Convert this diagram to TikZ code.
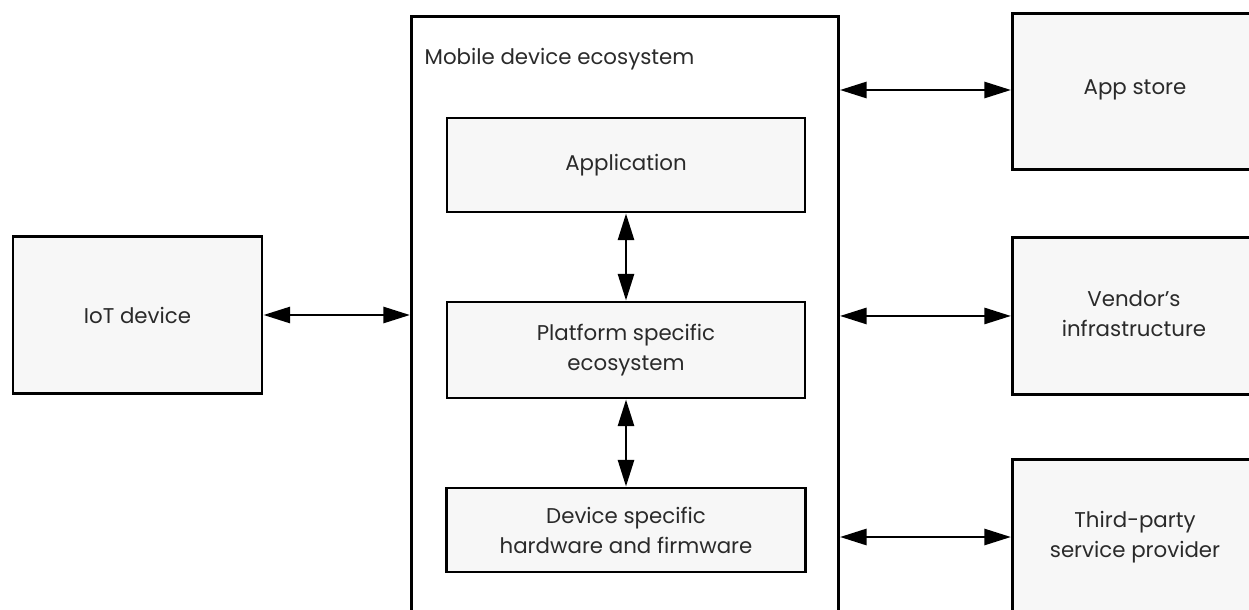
\documentclass[tikz,border=0pt]{standalone}
\usepackage{fontspec}
\setmainfont{Poppins}
\usetikzlibrary{arrows.meta}
\definecolor{boxfill}{HTML}{F7F7F7}
\definecolor{txt}{HTML}{2A2A2A}
\tikzset{
  lbl/.style={text=txt, align=center, font=\fontsize{16}{22.5}\selectfont},
  blk/.style={draw=black, line width=2.2pt, fill=boxfill, lbl},
  dbl/.style={{Triangle[length=20pt,width=12pt]}-{Triangle[length=20pt,width=12pt]}, line width=2.1pt},
}
\begin{document}
\begin{tikzpicture}[x=0.75pt,y=-0.75pt]
\useasboundingbox (0,0) rectangle (1249,610);
\clip (0,0) rectangle (1249,610);
\fill[white] (0,0) rectangle (1249,610);
% outer mobile box
\node[blk, fill=white, minimum width=427*0.75pt, minimum height=640*0.75pt, anchor=north west] (mob) at (410,15) {};
\node[lbl, anchor=west] (mobl) at (420,59) {Mobile device ecosystem};
% inner boxes
\node[blk, minimum width=358*0.75pt, minimum height=94*0.75pt] (app) at (626,165) {Application};
\node[blk, minimum width=358*0.75pt, minimum height=96*0.75pt] (plat) at (626,350) {Platform specific\\ecosystem};
\node[blk, minimum width=359*0.75pt, minimum height=84*0.75pt] (dev) at (626,530) {Device specific\\hardware and firmware};
% left
\node[blk, minimum width=249*0.75pt, minimum height=157*0.75pt] (iot) at (137.5,315) {IoT device};
% right
\node[blk, minimum width=250*0.75pt, minimum height=156*0.75pt, anchor=north west] (store) at (1011,12) {};
\node[lbl] (storel) at (1135,90) {App store};
\node[blk, minimum width=250*0.75pt, minimum height=157*0.75pt, anchor=north west] (vend) at (1011,236) {};
\node[lbl] (vendl) at (1134,314) {Vendor’s\\infrastructure};
\node[blk, minimum width=250*0.75pt, minimum height=200*0.75pt, anchor=north west] (third) at (1011,458) {};
\node[lbl] (thirdl) at (1135,537) {Third-party\\service provider};
% connectors
\coordinate (ys) at (0,90);
\coordinate (yt) at (0,537);
\draw[dbl] (iot.east) -- (iot.east -| mob.west);
\draw[dbl] (app.south) -- (plat.north);
\draw[dbl] (plat.south) -- (dev.north);
\draw[dbl] (mob.east |- ys) -- (store.west |- ys);
\draw[dbl] (mob.east |- vend.west) -- (vend.west);
\draw[dbl] (mob.east |- yt) -- (third.west |- yt);
\end{tikzpicture}
\end{document}
